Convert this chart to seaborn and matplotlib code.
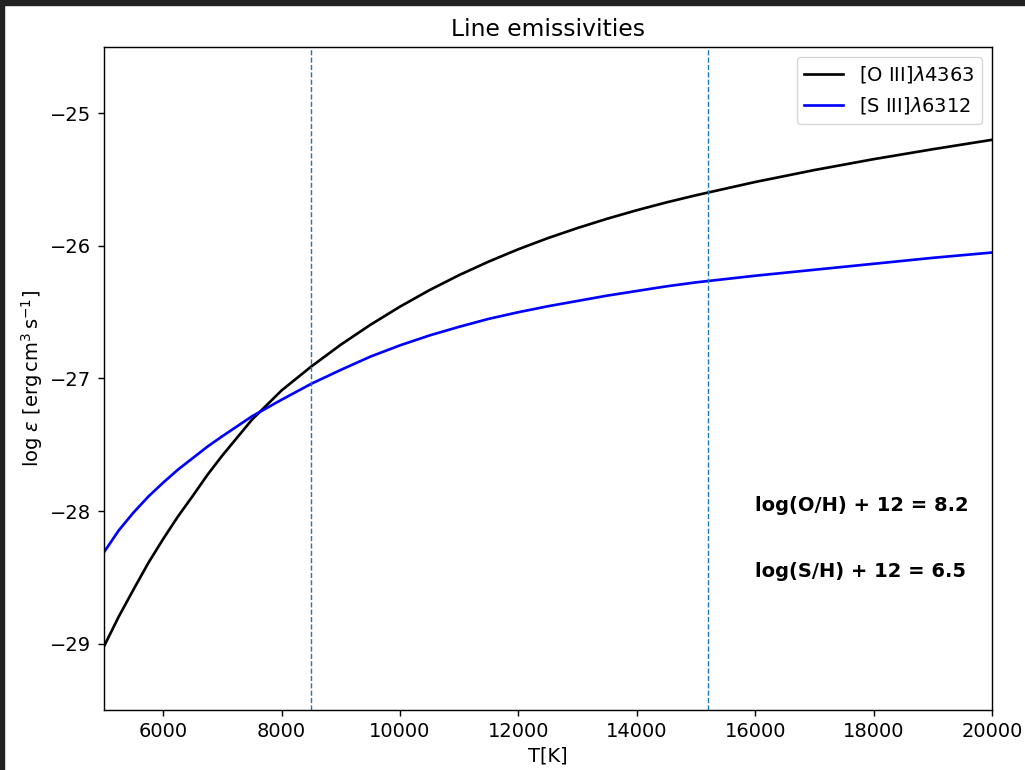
import matplotlib
matplotlib.use("Agg")
import matplotlib.pyplot as plt
import seaborn as sns
import pandas as pd
from matplotlib.patches import Rectangle

# Data (temperature grid shared by both lines)
T = [5000, 5250, 5500, 5750, 6000, 6250, 6500, 6750, 7000, 7500, 8000, 8500, 9000, 9500,
     10000, 10500, 11000, 11500, 12000, 12500, 13000, 13500, 14000, 14500,
     15000, 16000, 17000, 18000, 19000, 20000]
oiii = [-29.02, -28.795, -28.59, -28.39, -28.21, -28.04, -27.885, -27.725, -27.58, -27.31,
        -27.09, -26.91, -26.745, -26.595,
        -26.458, -26.333, -26.22, -26.118, -26.025, -25.941, -25.865, -25.795, -25.731, -25.672,
        -25.618, -25.518, -25.428, -25.346, -25.271, -25.20]
siii = [-28.31, -28.145, -28.01, -27.89, -27.785, -27.687, -27.60, -27.513, -27.435, -27.285,
        -27.16, -27.04, -26.935, -26.835,
        -26.75, -26.675, -26.61, -26.55, -26.50, -26.455, -26.415, -26.375, -26.34, -26.305,
        -26.275, -26.225, -26.18, -26.135, -26.09, -26.05]
labels = [r'[O III]$\lambda$4363', r'[S III]$\lambda$6312']
vlines = [8500, 15200]
annotations = ["log(O/H) + 12 = 8.2", "log(S/H) + 12 = 6.5"]
annot_pos = [(16000, -28.0), (16000, -28.5)]

df = pd.concat([
    pd.DataFrame({"T": T, "eps": oiii, "line": labels[0]}),
    pd.DataFrame({"T": T, "eps": siii, "line": labels[1]}),
])

s = 1.28
fs = 14
plt.rcParams.update({
    "font.size": fs,
    "axes.linewidth": 0.8 * s,
    "xtick.major.size": 3.5 * s,
    "ytick.major.size": 3.5 * s,
    "xtick.major.width": 0.8 * s,
    "ytick.major.width": 0.8 * s,
    "xtick.major.pad": 3.5 * s,
    "ytick.major.pad": 3.5 * s,
    "lines.solid_joinstyle": "round",
})

fig = plt.figure(figsize=(10.25, 7.7), dpi=100)
ax = fig.add_axes([104 / 1025, 1 - 710 / 770, (992 - 104) / 1025, (710 - 47) / 770])

sns.lineplot(data=df, x="T", y="eps", hue="line", palette=["black", "blue"],
             linewidth=1.5 * s, ax=ax, sort=True)
for v in vlines:
    ax.axvline(v, color="C0", linestyle="--", linewidth=1.0)

for txt, (x, y) in zip(annotations, annot_pos):
    ax.text(x, y, txt, fontweight="bold", fontsize=fs)

ax.set_xlim(5000, 20000)
ax.set_ylim(-29.5, -24.5)
ax.set_xticks([6000, 8000, 10000, 12000, 14000, 16000, 18000, 20000])
ax.set_yticks([-29, -28, -27, -26, -25])
ax.set_xlabel("T[K]", fontsize=fs, labelpad=4)
ax.set_ylabel(r"log $\varepsilon$ [$\mathrm{erg\,cm^3\,s^{-1}}$]", fontsize=fs)
ax.set_title("Line emissivities", fontsize=16.8, pad=6 * s)
ax.legend(loc="upper right", fontsize=fs, title=None)

# screenshot frame edges
fig.patches.append(Rectangle((0, 1 - 5 / 770), 1, 5 / 770, transform=fig.transFigure,
                             color="#222222", zorder=10))
fig.patches.append(Rectangle((0, 0), 4 / 1025, 1, transform=fig.transFigure,
                             color="#222222", zorder=10))

fig.savefig("out.png", dpi=100)
